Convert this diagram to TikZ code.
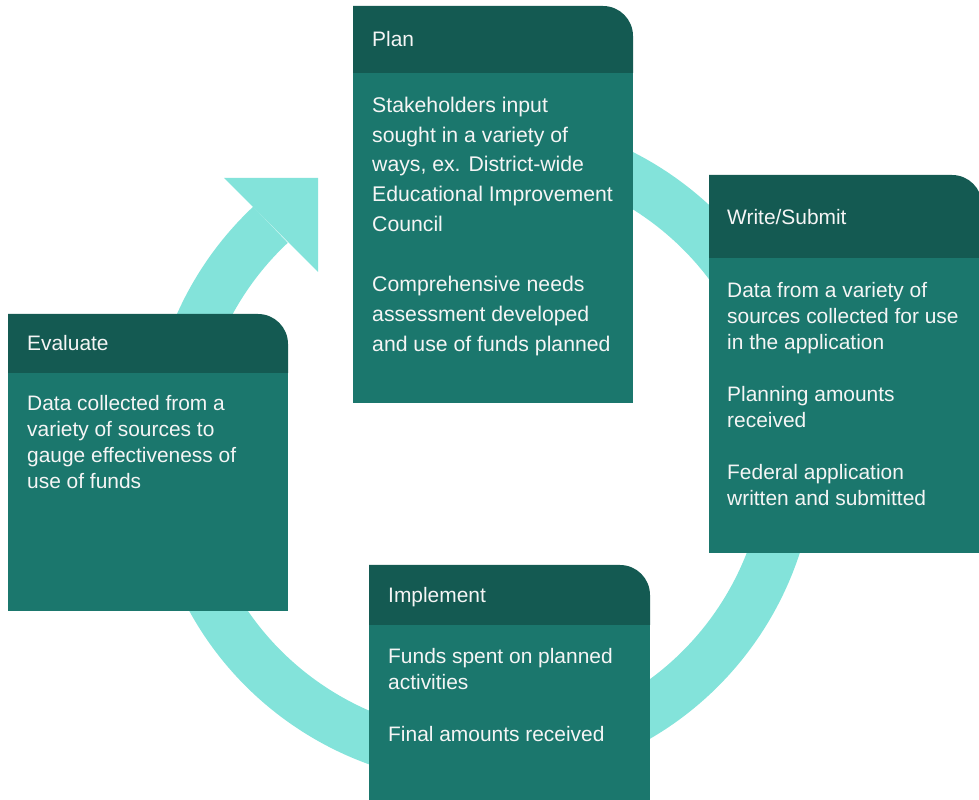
\documentclass[tikz,border=0pt]{standalone}
\usepackage{fontspec}
\setmainfont{Liberation Sans}
\usepackage{tikz}

\begin{document}
\begin{tikzpicture}[line join=bevel,
  head/.style={text=white!96!black, font=\fontsize{21}{26}\selectfont, inner sep=0pt, anchor=base west},
  body/.style={text=white!96!black, font=\fontsize{21}{26}\selectfont, inner sep=0pt, anchor=north west, align=left},
  wide/.style={font=\fontsize{21.3}{30}\selectfont}]
%%
\definecolor{headcol}{rgb}{0.078,0.353,0.322}
\definecolor{bodycol}{rgb}{0.106,0.467,0.427}
\definecolor{ringcol}{rgb}{0.514,0.890,0.855}
\useasboundingbox (0bp,0bp) rectangle (979bp,800bp);
%
\coordinate (c) at (482bp,350bp);
\draw [ringcol, line width=50bp] ([shift={(105:309bp)}]c) arc[start angle=105, end angle=-226.8, radius=309bp];
\fill [ringcol] ([shift={(-258bp,272bp)}]c) -- ([shift={(-164bp,272bp)}]c) -- ([shift={(-164bp,178bp)}]c) -- cycle;
%
\fill [headcol] (353bp,727bp) -- (353bp,794bp) -- (603bp,794bp) arc[start angle=90, end angle=0, radius=30bp] -- (633bp,727bp) -- cycle;
\fill [bodycol] (353bp,397bp) rectangle (633bp,727bp);
\fill [headcol] (709bp,542bp) -- (709bp,625bp) -- (952bp,625bp) arc[start angle=90, end angle=0, radius=30bp] -- (982bp,542bp) -- cycle;
\fill [bodycol] (709bp,247bp) rectangle (982bp,542bp);
\fill [headcol] (8bp,427bp) -- (8bp,486bp) -- (258bp,486bp) arc[start angle=90, end angle=0, radius=30bp] -- (288bp,427bp) -- cycle;
\fill [bodycol] (8bp,189bp) rectangle (288bp,427bp);
\fill [headcol] (369bp,175bp) -- (369bp,235bp) -- (620bp,235bp) arc[start angle=90, end angle=0, radius=30bp] -- (650bp,175bp) -- cycle;
\fill [bodycol] (369bp,0bp) rectangle (650bp,175bp);
%
\node (plan) at (372bp,753bp) [head] {Plan};
\node (plantxt) at (372bp,703.4bp) [body,wide] {Stakeholders input\\sought in a variety of\\ways, ex. District-wide\\Educational Improvement\\Council\\[30bp]Comprehensive needs\\assessment developed\\and use of funds planned};
\node (write) at (727bp,575bp) [head] {Write/Submit};
\node (writetxt) at (727bp,517.4bp) [body] {Data from a variety of\\sources collected for use\\in the application\\[26bp]Planning amounts\\received\\[26bp]Federal application\\written and submitted};
\node (eval) at (27bp,449bp) [head] {Evaluate};
\node (evaltxt) at (27bp,404.4bp) [body] {Data collected from a\\variety of sources to\\gauge effectiveness of\\use of funds};
\node (impl) at (388bp,197.5bp) [head] {Implement};
\node (impltxt) at (388bp,151.4bp) [body] {Funds spent on planned\\activities\\[26bp]Final amounts received};
%
\end{tikzpicture}
\end{document}
